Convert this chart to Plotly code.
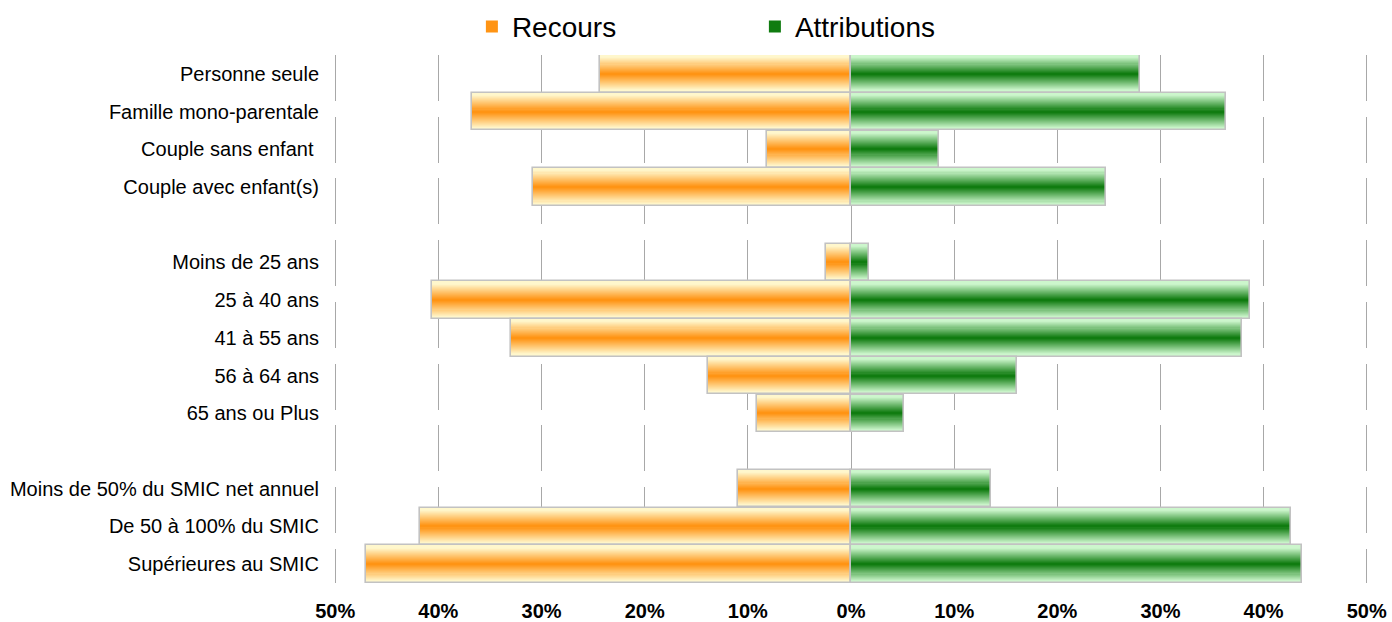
import plotly.graph_objects as go

categories = [
    "Personne seule", "Famille mono-parentale", "Couple sans enfant ", "Couple avec enfant(s)",
    " ",
    "Moins de 25 ans", "25 à 40 ans", "41 à 55 ans", "56 à 64 ans", "65 ans ou Plus",
    "  ",
    "Moins de 50% du SMIC net annuel", "De 50 à 100% du SMIC", "Supérieures au SMIC",
]
recours = [24.3, 36.7, 8.1, 30.8, None, 2.4, 40.6, 33.0, 13.9, 9.1, None, 11.0, 41.8, 47.0]
attributions = [28.0, 36.4, 8.5, 24.7, None, 1.7, 38.7, 37.9, 16.1, 5.1, None, 13.6, 42.7, 43.7]
tick_vals = [-50, -40, -30, -20, -10, 0, 10, 20, 30, 40, 50]
tick_text = ["50%", "40%", "30%", "20%", "10%", "0%", "10%", "20%", "30%", "40%", "50%"]


def lerp(c1, c2, t):
    return "#%02x%02x%02x" % tuple(round(a + (b - a) * t) for a, b in zip(c1, c2))


def profile(p):
    # p: distance from bar edge as fraction of bar height (0 edge .. 0.5 centre)
    return min(max((p - 0.05) / 0.42, 0.0), 1.0)


series = [
    ("Recours", [(-v if v is not None else None) for v in recours], (255, 247, 204), (255, 148, 20)),
    ("Attributions", attributions, (204, 246, 204), (16, 124, 16)),
]

N = 18
fig = go.Figure()
for name, xs, edge, center in series:
    for k in range(N):
        w = 0.99 * (1 - k / N)
        p = (1 - w) / 2
        fig.add_trace(go.Bar(
            x=xs, y=categories, orientation="h", width=w,
            marker=dict(color=lerp(edge, center, profile(p)), line=dict(width=0)),
            name=name, legendgroup=name, showlegend=(k == N - 1),
            hoverinfo="skip",
        ))
    fig.add_trace(go.Bar(
        x=xs, y=categories, orientation="h", width=0.99,
        marker=dict(color="rgba(0,0,0,0)", line=dict(width=1.6, color="#c2c2c2")),
        name=name, legendgroup=name, showlegend=False,
    ))

fig.update_layout(
    width=1392, height=622,
    margin=dict(l=334, r=24, t=55, b=39, autoexpand=False),
    barmode="overlay", bargap=0,
    plot_bgcolor="white", paper_bgcolor="white",
    font=dict(family="Liberation Sans, Arial", color="black"),
    legend=dict(
        orientation="h", xref="container", yref="container",
        x=0.339, y=0.957, xanchor="left", yanchor="middle",
        font=dict(size=28), entrywidth=238, entrywidthmode="pixels",
        bgcolor="rgba(0,0,0,0)",
    ),
    xaxis=dict(
        range=[-50.12, 50.12], tickvals=tick_vals, ticktext=tick_text,
        showgrid=True, gridcolor="#a8a8a8", gridwidth=1, griddash="46px,15.7px",
        zeroline=True, zerolinecolor="#a8a8a8", zerolinewidth=1.2,
        showline=False, ticks="", ticklabelstandoff=14, automargin=False,
        tickfont=dict(size=20, family="Liberation Sans, Arial", weight="bold"),
    ),
    yaxis=dict(
        type="category", categoryorder="array", categoryarray=categories,
        autorange="reversed", showgrid=False, zeroline=False, showline=False,
        ticks="", ticklabelstandoff=14, tickfont=dict(size=20), automargin=False,
    ),
)

fig.write_html("out.html")
